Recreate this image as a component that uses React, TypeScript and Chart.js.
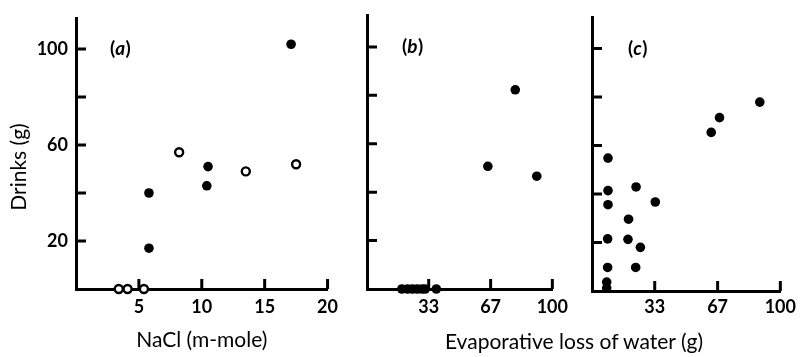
import React, { useEffect, useRef } from 'react';
import { Chart, registerables } from 'chart.js';

Chart.register(...registerables);

const FONT = 'Lato, "Open Sans", "DejaVu Sans", sans-serif';

// ---- Panel (a): NaCl (m-mole) vs Drinks (g)
const aFilledX = [5.8, 5.8, 10.4, 10.5, 17.1];
const aFilledY = [17, 40, 43, 51, 102];
const aOpenX = [3.4, 4.1, 5.4, 8.2, 13.5, 17.5];
const aOpenY = [0, 0, 0, 57, 49, 52];
const aXTicks = [5, 10, 15, 20];
const aXTickLabels = ['5', '10', '15', '20'];

// ---- Panel (b): Evaporative loss of water (g) vs Drinks (g)
const bX = [18.8, 21.9, 24.5, 27.1, 29.6, 31.4, 37.4, 65.2, 80.0, 91.6];
const bY = [0, 0, 0, 0, 0, 0, 0, 50.7, 82.3, 46.6];

// ---- Panel (c): Evaporative loss of water (g) vs Drinks (g)
const cX = [89.1, 67.7, 63.3, 8.5, 8.5, 23.4, 8.5, 33.6, 19.4, 8.3, 19.1, 25.7, 8.3, 23.2, 7.8, 7.8];
const cY = [77.9, 71.5, 65.4, 54.8, 41.4, 42.9, 35.6, 36.7, 29.6, 21.5, 21.3, 18.0, 9.7, 9.7, 3.7, 1.2];

const evapTicks = [33.3, 66.7, 100];
const evapTickLabels = ['33', '67', '100'];
const yTicks = [20, 40, 60, 80, 100];
const yTickLabels = ['20', '', '60', '', '100'];

const toPoints = (xs: number[], ys: number[]) => xs.map((x, i) => ({ x, y: ys[i] }));

const filledStyle = {
  pointRadius: 4.8,
  pointBackgroundColor: '#000',
  pointBorderColor: '#000',
  pointBorderWidth: 0,
  showLine: false,
  clip: false as const,
};
const openStyle = {
  pointRadius: 4,
  pointBackgroundColor: '#fff',
  pointBorderColor: '#000',
  pointBorderWidth: 2.4,
  showLine: false,
  clip: false as const,
};

const inwardTicks = {
  id: 'inwardTicks',
  beforeDatasetsDraw(chart: any) {
    const { ctx, chartArea } = chart;
    const xs = chart.scales.x;
    const ys = chart.scales.y;
    ctx.save();
    ctx.strokeStyle = '#000';
    ctx.lineWidth = 3;
    ctx.beginPath();
    xs.ticks.forEach((t: any) => {
      const px = xs.getPixelForValue(t.value);
      ctx.moveTo(px, chartArea.bottom);
      ctx.lineTo(px, chartArea.bottom - 10);
    });
    ys.ticks.forEach((t: any) => {
      const py = ys.getPixelForValue(t.value);
      ctx.moveTo(chartArea.left, py);
      ctx.lineTo(chartArea.left + 10, py);
    });
    ctx.stroke();
    ctx.restore();
  },
};

function panelLabel(letter: string, dx: number) {
  return {
    id: 'panelLabel',
    afterDraw(chart: any) {
      const { ctx, chartArea } = chart;
      const y = chart.scales.y.getPixelForValue(100);
      let x = chartArea.left + dx;
      ctx.save();
      ctx.fillStyle = '#000';
      ctx.textBaseline = 'middle';
      ctx.textAlign = 'left';
      ctx.font = `bold 19px ${FONT}`;
      ctx.fillText('(', x, y);
      x += ctx.measureText('(').width;
      ctx.font = `italic bold 19px ${FONT}`;
      ctx.fillText(letter, x, y);
      x += ctx.measureText(letter).width + 0.5;
      ctx.font = `bold 19px ${FONT}`;
      ctx.fillText(')', x, y);
      ctx.restore();
    },
  };
}

const yTitle = {
  id: 'yTitle',
  afterDraw(chart: any) {
    const { ctx } = chart;
    ctx.save();
    ctx.translate(19, 167);
    ctx.rotate(-Math.PI / 2);
    ctx.fillStyle = '#000';
    ctx.textAlign = 'center';
    ctx.textBaseline = 'middle';
    ctx.font = `21px ${FONT}`;
    ctx.fillText('Drinks (g)', 0, 0);
    ctx.restore();
  },
};

interface PanelOpts {
  datasets: any[];
  xMax: number;
  yMax: number;
  xTicks: number[];
  xLabels: string[];
  showYLabels: boolean;
  yWidth: number;
  xHeight: number;
  padding: { left: number; right: number; top: number; bottom: number };
  xLabelPad: number;
  xTitle?: string;
  plugins: any[];
}

function makeConfig(o: PanelOpts): any {
  return {
    type: 'scatter',
    data: { datasets: o.datasets },
    plugins: o.plugins,
    options: {
      responsive: false,
      animation: false,
      events: [],
      layout: { padding: o.padding },
      plugins: { legend: { display: false }, tooltip: { enabled: false } },
      scales: {
        x: {
          type: 'linear',
          min: 0,
          max: o.xMax,
          grid: { display: false, drawTicks: false },
          border: { display: true, color: '#000', width: 3 },
          afterBuildTicks: (s: any) => {
            s.ticks = o.xTicks.map((v) => ({ value: v }));
          },
          afterFit: (s: any) => {
            s.height = o.xHeight;
          },
          ticks: {
            autoSkip: false,
            maxRotation: 0,
            padding: o.xLabelPad,
            color: '#000',
            font: { family: FONT, size: 18, weight: 'bold' },
            callback: (v: number) => {
              const i = o.xTicks.indexOf(v);
              return i >= 0 ? o.xLabels[i] : '';
            },
          },
          title: o.xTitle
            ? {
                display: true,
                text: o.xTitle,
                color: '#000',
                font: { family: FONT, size: 21 },
                padding: { top: 0, bottom: 4 },
              }
            : { display: false },
        },
        y: {
          type: 'linear',
          min: 0,
          max: o.yMax,
          grid: { display: false, drawTicks: false },
          border: { display: true, color: '#000', width: 3 },
          afterBuildTicks: (s: any) => {
            s.ticks = yTicks.map((v) => ({ value: v }));
          },
          afterFit: (s: any) => {
            s.width = o.yWidth;
          },
          ticks: {
            display: o.showYLabels,
            autoSkip: false,
            padding: 8,
            color: '#000',
            font: { family: FONT, size: 18, weight: 'bold' },
            callback: (v: number) => {
              const i = yTicks.indexOf(v);
              return i >= 0 ? yTickLabels[i] : '';
            },
          },
        },
      },
    },
  };
}

export default function App() {
  const aRef = useRef<HTMLCanvasElement>(null);
  const bRef = useRef<HTMLCanvasElement>(null);
  const cRef = useRef<HTMLCanvasElement>(null);

  useEffect(() => {
    const charts: Chart[] = [];
    charts.push(
      new Chart(
        aRef.current!,
        makeConfig({
          datasets: [
            { data: toPoints(aOpenX, aOpenY), ...openStyle },
            { data: toPoints(aFilledX, aFilledY), ...filledStyle },
          ],
          xMax: 20,
          yMax: 112.6,
          xTicks: aXTicks,
          xLabels: aXTickLabels,
          showYLabels: true,
          yWidth: 76,
          xHeight: 68,
          padding: { left: 0, right: 11, top: 12, bottom: 0 },
          xLabelPad: 7,
          xTitle: 'NaCl (m-mole)',
          plugins: [inwardTicks, panelLabel('a', 34), yTitle],
        })
      )
    );
    charts.push(
      new Chart(
        bRef.current!,
        makeConfig({
          datasets: [{ data: toPoints(bX, bY), ...filledStyle }],
          xMax: 100,
          yMax: 113.2,
          xTicks: evapTicks,
          xLabels: evapTickLabels,
          showYLabels: false,
          yWidth: 22,
          xHeight: 68,
          padding: { left: 0, right: 16, top: 15, bottom: 0 },
          xLabelPad: 7,
          plugins: [inwardTicks, panelLabel('b', 35)],
        })
      )
    );
    charts.push(
      new Chart(
        cRef.current!,
        makeConfig({
          datasets: [{ data: toPoints(cX, cY), ...filledStyle }],
          xMax: 100,
          yMax: 113,
          xTicks: evapTicks,
          xLabels: evapTickLabels,
          showYLabels: false,
          yWidth: 17,
          xHeight: 66,
          padding: { left: 0, right: 18, top: 17, bottom: 0 },
          xLabelPad: 5,
          plugins: [inwardTicks, panelLabel('c', 36)],
        })
      )
    );
    return () => charts.forEach((c) => c.destroy());
  }, []);

  return (
    <div
      style={{
        position: 'absolute',
        left: 0,
        top: 0,
        width: 801,
        height: 357,
        background: '#fff',
        overflow: 'hidden',
      }}
    >
      <canvas ref={aRef} width={345} height={357} style={{ position: 'absolute', left: 0, top: 0 }} />
      <canvas ref={bRef} width={230} height={357} style={{ position: 'absolute', left: 345, top: 0 }} />
      <canvas ref={cRef} width={226} height={357} style={{ position: 'absolute', left: 575, top: 0 }} />
      <div
        style={{
          position: 'absolute',
          left: 374,
          top: 328,
          width: 400,
          textAlign: 'center',
          fontFamily: FONT,
          fontSize: 21,
          lineHeight: '26px',
          color: '#000',
        }}
      >
        Evaporative loss of water (g)
      </div>
    </div>
  );
}
